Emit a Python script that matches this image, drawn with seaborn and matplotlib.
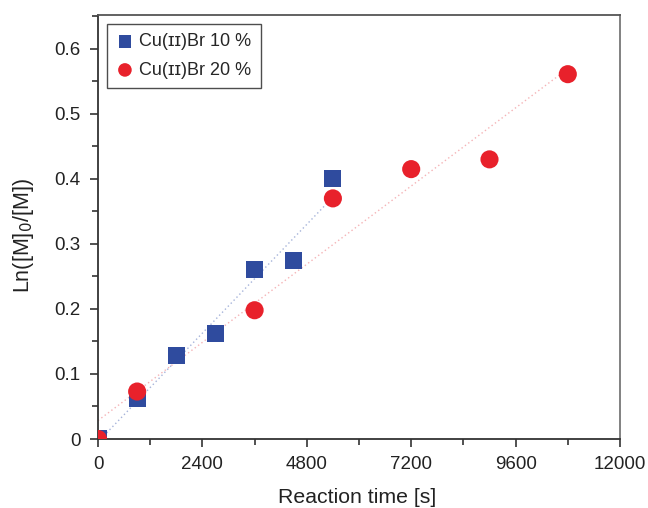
import matplotlib
matplotlib.use("Agg")
import matplotlib.pyplot as plt
import seaborn as sns
import pandas as pd
from matplotlib.ticker import MultipleLocator, FuncFormatter

sns.set_style("white")
plt.rcParams['font.family'] = ['Liberation Sans', 'DejaVu Sans']

# Data
time_10 = [0, 900, 1800, 2700, 3600, 4500, 5400]
ln_10 = [0.0, 0.062, 0.128, 0.162, 0.260, 0.274, 0.400]
time_20 = [0, 900, 3600, 5400, 7200, 9000, 10800]
ln_20 = [0.0, 0.073, 0.198, 0.370, 0.415, 0.430, 0.561]
label_10 = "Cu(ɪɪ)Br 10 %"
label_20 = "Cu(ɪɪ)Br 20 %"
x_ticks = [0, 2400, 4800, 7200, 9600, 12000]

blue = "#2f4b9e"
red = "#e8212b"

df10 = pd.DataFrame({"t": time_10, "y": ln_10})
df20 = pd.DataFrame({"t": time_20, "y": ln_20})

fig = plt.figure(figsize=(6.48, 5.08), dpi=100)
ax = fig.add_axes([98/648, 1-439/508, (620-98)/648, (439-15)/508])

sns.regplot(data=df10, x="t", y="y", ax=ax, scatter=False, ci=None, truncate=True,
            line_kws=dict(color="#8fa0d0", lw=1.0, ls=(0, (1, 2)), alpha=0.8))
sns.regplot(data=df20, x="t", y="y", ax=ax, scatter=False, ci=None, truncate=True,
            line_kws=dict(color="#f2a0a4", lw=1.0, ls=(0, (1, 2)), alpha=0.8))

sns.scatterplot(data=df10, x="t", y="y", ax=ax, marker="s", s=150, color=blue,
                edgecolor="none", label=label_10, zorder=3)
sns.scatterplot(data=df20, x="t", y="y", ax=ax, marker="o", s=170, color=red,
                edgecolor="none", label=label_20, zorder=4)

ax.set_xlim(0, 12000)
ax.set_ylim(0, 0.652)
ax.set_xticks(x_ticks)
ax.xaxis.set_minor_locator(MultipleLocator(1200))
ax.yaxis.set_major_locator(MultipleLocator(0.1))
ax.yaxis.set_minor_locator(MultipleLocator(0.05))
ax.yaxis.set_major_formatter(FuncFormatter(lambda v, p: "0" if abs(v) < 1e-9 else f"{v:.1f}"))

for sp in ax.spines.values():
    sp.set_color("#333333")
    sp.set_linewidth(1.3)
ax.spines["top"].set_color("#555555")
ax.spines["right"].set_color("#777777")

ax.tick_params(which="both", direction="out", color="#333333", width=1.2)
ax.tick_params(which="major", length=5.5, labelsize=13.5, labelcolor="#222222", pad=7)
ax.tick_params(which="minor", length=4)
ax.tick_params(axis="x", which="both", bottom=True, top=False)
ax.tick_params(axis="y", which="both", left=True, right=False)

ax.set_xlabel("Reaction time [s]", fontsize=15.3, color="#222222", va="center")
ax.set_ylabel("Ln([M]$_0$/[M])", fontsize=15.5, color="#222222", va="center")
ax.xaxis.set_label_coords(0.497, -0.137)
ax.yaxis.set_label_coords(-0.142, 0.479)

leg = ax.legend(loc="upper left", bbox_to_anchor=(0.017, 0.979), frameon=True,
                fancybox=False, fontsize=13, handletextpad=0.3, borderpad=0.5,
                labelspacing=0.65, markerscale=0.75, handlelength=1.0,
                borderaxespad=0)
leg.get_frame().set_edgecolor("#222222")
leg.get_frame().set_linewidth(1.0)

fig.savefig("out.png", dpi=100)
